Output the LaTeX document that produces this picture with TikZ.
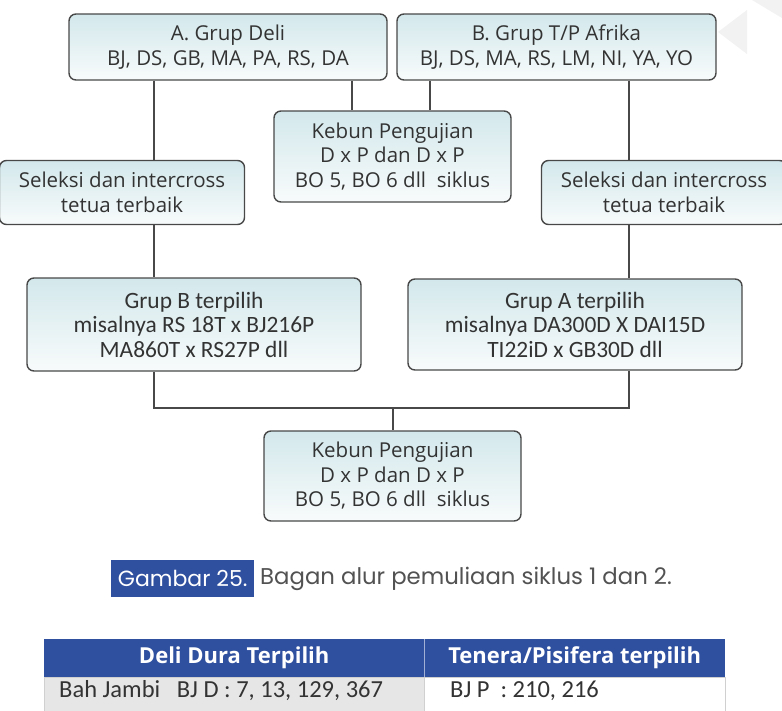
\documentclass[tikz,border=0pt]{standalone}
\usepackage{fontspec}
\setmainfont{Open Sans}
\newfontfamily\condfont{Carlito}
\newfontfamily\capfont{Poppins}
\usetikzlibrary{calc}
\definecolor{boxtop}{HTML}{D3E8EC}
\definecolor{boxbot}{HTML}{F8FBFB}
\definecolor{boxline}{HTML}{484848}
\definecolor{txt}{HTML}{333333}
\definecolor{hblue}{HTML}{2F4F9F}
\definecolor{cellgray}{HTML}{E6E6E6}
\definecolor{cellline}{HTML}{D0D0D0}
\definecolor{wmark}{HTML}{F2F2F2}
\begin{document}
\begin{tikzpicture}[x=1pt,y=-1pt,
  flowbox/.style={draw=boxline, line width=1.4pt, rounded corners=7pt,
    top color=boxtop, bottom color=boxbot, align=center, text=txt,
    inner sep=0pt, font=\fontsize{20.5}{24.5}\selectfont},
  condbox/.style={flowbox, font=\condfont\fontsize{23.4}{24.5}\selectfont},
  link/.style={draw=boxline, line width=1.8pt},
  headcell/.style={fill=hblue, text=white, inner sep=0pt, anchor=north west,
    minimum height=38pt, font=\bfseries\fontsize{22}{24}\selectfont},
  rowtext/.style={anchor=west, inner sep=0pt, text=txt,
    font=\condfont\fontsize{24.5}{26}\selectfont}]
\useasboundingbox (0,0) rectangle (782,710);
% watermark
\fill[wmark] (718,32) -- (747,10) -- (747,54) -- cycle;
\fill[wmark] (752,0) -- (782,0) -- (782,18) -- cycle;
% boxes
\node[flowbox, minimum width=318pt, minimum height=66pt] (A) at (228,47)
  {A. Grup Deli\\BJ, DS, GB, MA, PA, RS, DA};
\node[flowbox, minimum width=319pt, minimum height=66pt] (B) at (556.5,47)
  {B. Grup T/P Afrika\\BJ, DS, MA, RS, LM, NI, YA, YO};
\node[flowbox, minimum width=237pt, minimum height=91pt] (K1) at (392.5,156.5)
  {Kebun Pengujian\\D x P dan D x P\\BO 5, BO 6 dll\ \ siklus};
\node[flowbox, minimum width=245pt, minimum height=64pt] (SL) at (122,192.5)
  {Seleksi dan intercross\\tetua terbaik};
\node[flowbox, minimum width=245pt, minimum height=64pt] (SR) at (664,192.5)
  {Seleksi dan intercross\\tetua terbaik};
\node[condbox, minimum width=334pt, minimum height=93pt] (GB) at (194,324.5)
  {Grup B terpilih\\misalnya RS 18T x BJ216P\\MA860T x RS27P dll};
\node[condbox, minimum width=334pt, minimum height=91pt] (GA) at (575,324.5)
  {Grup A terpilih\\misalnya DA300D X DAI15D\\TI22iD x GB30D dll};
\node[flowbox, minimum width=257pt, minimum height=90pt] (K2) at (392.5,476)
  {Kebun Pengujian\\D x P dan D x P\\BO 5, BO 6 dll\ \ siklus};
% connector x positions
\coordinate (xl) at (154,0);
\coordinate (xa) at (352,0);
\coordinate (xb) at (430,0);
\coordinate (xr) at (629,0);
\coordinate (xm) at (393,0);
\coordinate (yj) at (0,408);
\draw[link] (A.south -| xl) -- (SL.north -| xl);
\draw[link] (A.south -| xa) -- (K1.north -| xa);
\draw[link] (B.south -| xb) -- (K1.north -| xb);
\draw[link] (B.south -| xr) -- (SR.north -| xr);
\draw[link] (SL.south -| xl) -- (GB.north -| xl);
\draw[link] (SR.south -| xr) -- (GA.north -| xr);
\draw[link] (GB.south -| xl) -- (xl |- yj) -- (xr |- yj) -- (GA.south -| xr);
\draw[link] (xm |- yj) -- (K2.north -| xm);
% caption
\node[fill=hblue, text=white, inner sep=0pt, minimum height=37pt, minimum width=143pt,
  anchor=west, font=\capfont\fontsize{22}{24}\selectfont] (capA) at (111,578.5) {Gambar 25.};
\node[anchor=west, inner sep=0pt, text=txt!85,
  font=\capfont\fontsize{22.8}{24}\selectfont] (capB) at (260,578.5)
  {Bagan alur pemuliaan siklus 1 dan 2.};
% table
\node[headcell, minimum width=380pt] (h1) at (44,639) {Deli Dura Terpilih};
\node[headcell, minimum width=301pt] (h2) at (424,639) {Tenera/Pisifera terpilih};
\draw[white!55!hblue, line width=1pt] (h1.north east) -- (h1.south east);
\node[fill=cellgray, draw=cellline, inner sep=0pt, anchor=north west,
  minimum width=380pt, minimum height=40pt] (r1) at (44,677) {};
\node[fill=white, draw=cellline, inner sep=0pt, anchor=north west,
  minimum width=301pt, minimum height=40pt] (r2) at (424,677) {};
\node[rowtext] (t1) at (59,691) {Bah Jambi\ \ \ BJ D : 7, 13, 129, 367};
\node[rowtext] (t2) at (450,691) {BJ P\ \ : 210, 216};
\end{tikzpicture}
\end{document}
